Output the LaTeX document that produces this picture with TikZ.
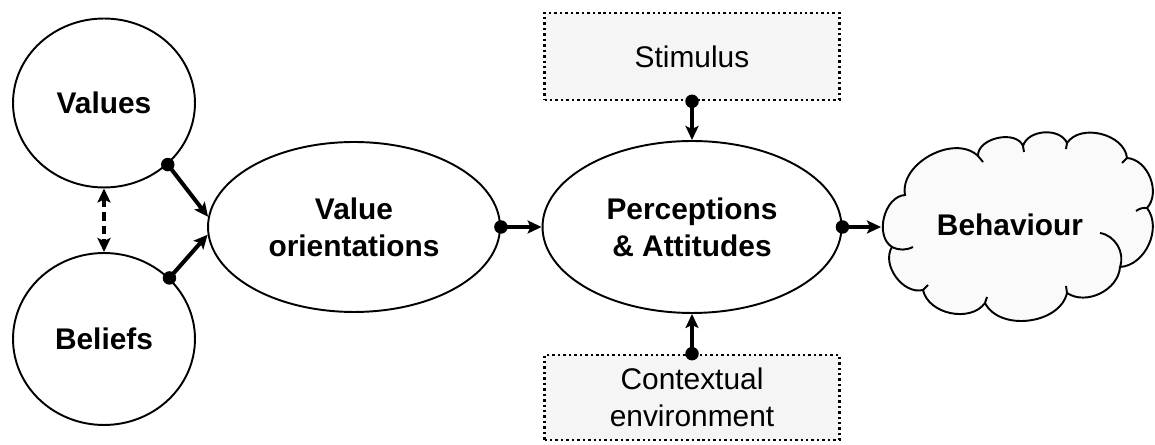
\documentclass[tikz,border=0pt]{standalone}
\usepackage{fontspec}
\setmainfont{Liberation Sans}
\usetikzlibrary{arrows.meta,shapes.geometric}
\tikzset{ptip/.tip={Stealth[length=0.28cm,width=0.26cm,inset=0.06cm]}}
\begin{document}
\begin{tikzpicture}[x=0.02cm,y=0.02cm,
  bubble/.style={ellipse, draw, line width=1.1pt, align=center, inner sep=0pt,
    font=\fontsize{17}{21}\selectfont\bfseries},
  dotbox/.style={rectangle, draw, dash pattern=on 1.4pt off 1.7pt, line width=1.5pt,
    fill=black!4, align=center, inner sep=0pt, font=\fontsize{17}{21}\selectfont},
  link/.style={line width=2.3pt, -{ptip}},
  knob/.style={circle, fill, inner sep=0pt, minimum size=0.27cm},
  cloudline/.style={line width=1.1pt},
]
\useasboundingbox (0,0) rectangle (1155,445);

% left column: values and beliefs
\node[bubble, minimum width=3.64cm, minimum height=3.38cm] (values) at (104,342) {Values};
\node[bubble, minimum width=3.64cm, minimum height=3.44cm] (beliefs) at (104,106) {Beliefs};
\draw[line width=2.3pt, dash pattern=on 0.17cm off 0.1cm, {ptip}-{ptip}]
  (values.south) -- (beliefs.north);

% central chain
\node[bubble, minimum width=5.84cm, minimum height=3.4cm] (vo) at (354,218) {Value\\orientations};
\node[bubble, minimum width=5.98cm, minimum height=3.44cm] (pa) at (692,218) {Perceptions\\\& Attitudes};

% influences above and below
\node[dotbox, minimum width=5.9cm, minimum height=1.74cm] (stim) at (692,388.5) {Stimulus};
\node[dotbox, minimum width=5.9cm, minimum height=1.7cm] (ctx) at (692,47.5) {Contextual\\environment};

% behaviour cloud
\filldraw[cloudline, fill=black!2]
  (905,250) to[bend left=72] (978,289) to[bend left=80] (1023,299)
  to[bend left=70] (1067,302) to[bend left=70] (1127,287)
  to[bend left=64] (1147,237) to[bend left=62] (1120,178)
  to[bend left=60] (1067,152) to[bend left=70] (985,142)
  to[bend left=66] (923,155) to[bend left=68] (892,198)
  to[bend left=72] (905,250) -- cycle;
\draw[cloudline] (892,198) to[bend right=25] (913,198);
\draw[cloudline] (1147,237) to[bend right=20] (1136,234);
\draw[cloudline] (1100,212) to[bend left=50] (1120,178);
\draw[cloudline] (978,289) -- (983,283);
\draw[cloudline] (1023,299) -- (1024,293);
\draw[cloudline] (1067,302) -- (1066,296);
\draw[cloudline] (1127,287) -- (1122,282);
\draw[cloudline] (1067,152) -- (1066,159);
\draw[cloudline] (985,142) -- (987,148);
\draw[cloudline] (923,155) -- (928,160);
\node[font=\fontsize{17}{21}\selectfont\bfseries, inner sep=0pt] (beh) at (1010,220) {Behaviour};
\coordinate (behin) at (881,218);

% connectors with their starting knobs
\node[knob] (k1) at (values.-44) {};
\node[knob] (k2) at (beliefs.43) {};
\node[knob] (k3) at (vo.east) {};
\node[knob] (k4) at (pa.east) {};
\node[knob] (k5) at (stim.south) {};
\node[knob] (k6) at (ctx.north) {};

\draw[link] (k1.center) -- (vo.176);
\draw[link] (k2.center) -- (vo.183);
\draw[link] (k3.center) -- (pa.west);
\draw[link] (k4.center) -- (behin);
\draw[link] (k5.center) -- (pa.north);
\draw[link] (k6.center) -- (pa.south);
\end{tikzpicture}
\end{document}
